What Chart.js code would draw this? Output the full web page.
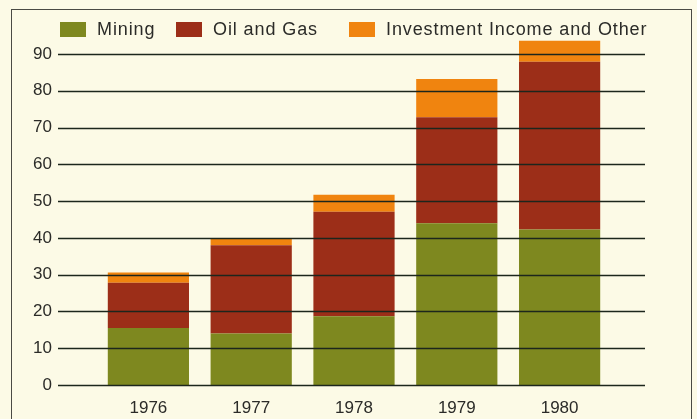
<!DOCTYPE html>
<html>
<head>
<meta charset="utf-8">
<script src="https://cdn.jsdelivr.net/npm/chart.js@4/dist/chart.umd.min.js"></script>
<style>
  html, body { margin: 0; padding: 0; background: #fcfae6; overflow: hidden; }
  #wrap { position: relative; width: 697px; height: 419px; }
  #frame { position: absolute; left: 11px; top: 9px; width: 681px; height: 420px;
           border: 1.5px solid #4a4a44; box-sizing: border-box; }
  canvas { position: absolute; left: 0; top: 0; }
</style>
</head>
<body>
<div id="wrap">
  <div id="frame"></div>
  <canvas id="myChart" width="697" height="419"></canvas>
</div>
<script>
const years = ['1976', '1977', '1978', '1979', '1980'];
const mining = [15.5, 14, 18.7, 44, 42.3];
const oilAndGas = [12.3, 24, 28.4, 28.8, 45.6];
const investmentOther = [2.8, 1.8, 4.6, 10.4, 5.7];
const yTicks = [0, 10, 20, 30, 40, 50, 60, 70, 80, 90];

const FONT = '"Liberation Sans", Arial, sans-serif';
const AREA_TOP = 35.6, AREA_BOTTOM = 385;

// horizontal rules run wider than the bar area and sit on top of the bars
const rulesPlugin = {
  id: 'rules',
  afterDatasetsDraw(chart) {
    const { ctx, scales: { y } } = chart;
    ctx.save();
    ctx.strokeStyle = '#1c261c';
    ctx.lineWidth = 1.6;
    yTicks.forEach((v) => {
      const py = Math.round(y.getPixelForValue(v)) + 0.5;
      ctx.beginPath();
      ctx.moveTo(58, py);
      ctx.lineTo(645, py);
      ctx.stroke();
    });
    ctx.restore();
  },
};

// legend row at the top
const legendX = [60, 176, 349];
const legendPlugin = {
  id: 'topLegend',
  afterDraw(chart) {
    const { ctx } = chart;
    ctx.save();
    ctx.font = '18px ' + FONT;
    ctx.letterSpacing = '0.9px';
    ctx.textBaseline = 'middle';
    chart.data.datasets.forEach((ds, i) => {
      const x = legendX[i];
      ctx.fillStyle = ds.backgroundColor;
      ctx.fillRect(x, 22, 26, 15);
      ctx.fillStyle = '#2b2b28';
      ctx.fillText(ds.label, x + 37, 30);
    });
    ctx.restore();
  },
};

let xHeight = 34;

const chart = new Chart(document.getElementById('myChart'), {
  type: 'bar',
  data: {
    labels: years,
    datasets: [
      { label: 'Mining', data: mining, backgroundColor: '#7e881f' },
      { label: 'Oil and Gas', data: oilAndGas, backgroundColor: '#9c2e18' },
      { label: 'Investment Income and Other', data: investmentOther, backgroundColor: '#f0840f' },
    ],
  },
  options: {
    responsive: false,
    animation: false,
    layout: { padding: { top: 35, right: 86, left: 0, bottom: 0 } },
    plugins: { legend: { display: false }, tooltip: { enabled: false } },
    datasets: { bar: { barPercentage: 1, categoryPercentage: 0.79, borderWidth: 0 } },
    scales: {
      x: {
        stacked: true,
        grid: { display: false },
        border: { display: false },
        ticks: { color: '#2b2b28', font: { family: FONT, size: 17 }, padding: 5 },
        afterFit: (s) => { s.height = xHeight; s.paddingLeft = 0; s.paddingRight = 0; },
      },
      y: {
        stacked: true,
        min: 0,
        max: 95,
        grid: { display: false, drawTicks: false },
        border: { display: false },
        afterBuildTicks: (s) => { s.ticks = yTicks.map((v) => ({ value: v })); },
        ticks: { color: '#2b2b28', font: { family: FONT, size: 17 }, padding: 45 },
        afterFit: (s) => { s.width = 97; s.paddingTop = 0; s.paddingBottom = 0; },
      },
    },
  },
  plugins: [rulesPlugin, legendPlugin],
});

// nudge the plot area onto the reference position
for (let i = 0; i < 3; i++) {
  const a = chart.chartArea;
  const dTop = AREA_TOP - a.top;
  const dBottom = a.bottom - AREA_BOTTOM;
  if (Math.abs(dTop) < 0.3 && Math.abs(dBottom) < 0.3) break;
  chart.options.layout.padding.top += dTop;
  xHeight += dBottom;
  chart.update();
}
</script>
</body>
</html>
